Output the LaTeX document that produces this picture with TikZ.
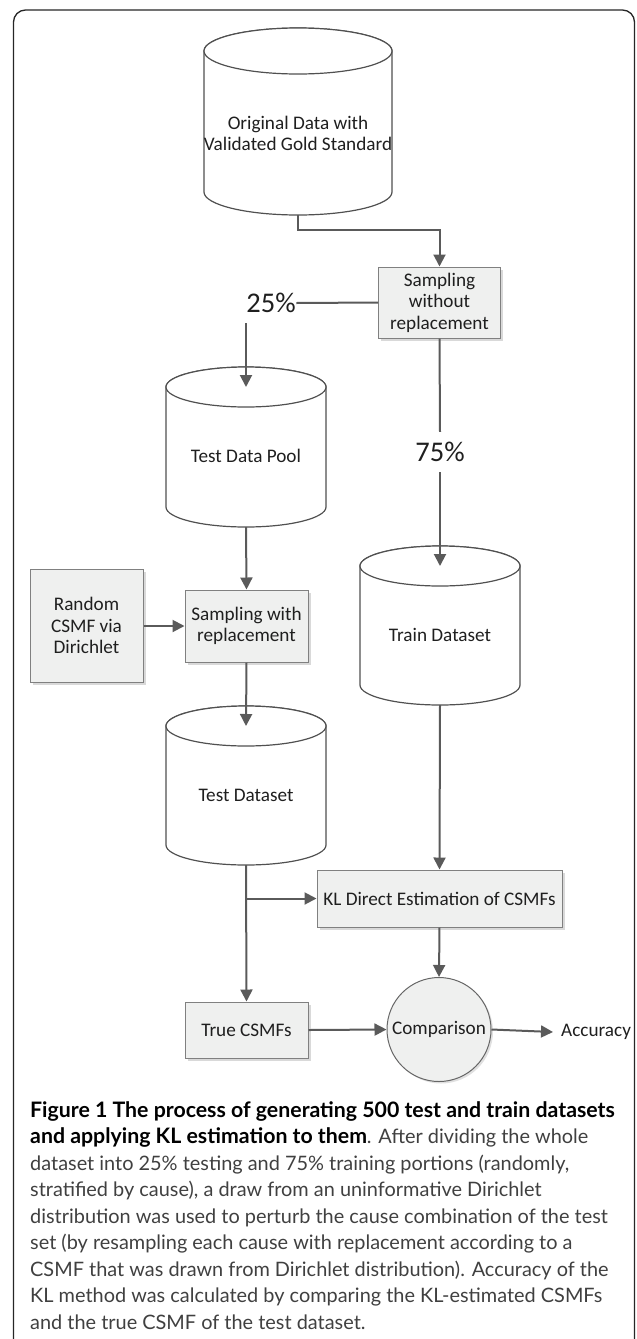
\documentclass[tikz,border=0pt]{standalone}
\usepackage{fontspec}
\setmainfont{Carlito}
\newfontfamily\capfont{Lato}
\usetikzlibrary{arrows.meta,positioning,shadows,calc}
\definecolor{boxfill}{HTML}{EFF0EF}
\definecolor{boxline}{HTML}{808080}
\definecolor{linkgray}{HTML}{5A5A5A}
\definecolor{drumline}{HTML}{505050}
\definecolor{captext}{HTML}{404040}
% database drum: centre x, top-ellipse y, bottom-ellipse y, x radius, y radius
\newcommand{\datadrum}[5]{%
  \draw[drum] (#1-#4,#2) -- (#1-#4,#3) arc[start angle=180,end angle=360,x radius=#4,y radius=#5]
    -- (#1+#4,#2) arc[start angle=0,end angle=180,x radius=#4,y radius=#5] -- cycle;
  \draw[drum] (#1,#2) ellipse[x radius=#4,y radius=#5];}
\newcommand{\capbold}[1]{\textcolor{black}{\fontsize{21.3}{26.5}\selectfont\bfseries #1}}

\begin{document}
\begin{tikzpicture}[x=1pt,y=1pt,
    difont/.style={font=\fontsize{19.2}{21.5}\selectfont, text=black!88},
    procbox/.style={difont, draw=boxline, fill=boxfill, line width=1pt, align=center, inner sep=0pt,
      drop shadow={shadow xshift=2.5pt, shadow yshift=-2.5pt, fill=black!15, opacity=1}},
    drum/.style={draw=drumline, fill=white, line width=1.2pt},
    conn/.style={draw=linkgray, line width=2pt, -{Triangle[width=12pt,length=12pt]}},
    link/.style={draw=linkgray, line width=2pt},
    pct/.style={font=\fontsize{28.5}{30}\selectfont, text=black!88, inner xsep=0.5pt, inner ysep=10pt}]
  \useasboundingbox (0,0) rectangle (637,-1339);
  % outer frame
  \draw[black!85, line width=1.3pt, rounded corners=12pt] (13.5,-1360) -- (13.5,-10) -- (634.5,-10) -- (634.5,-1360);

  % data stores
  \datadrum{298}{-51}{-192}{94}{23}
  \datadrum{246}{-387}{-507}{80}{20}
  \datadrum{440}{-566}{-685}{80}{20}
  \datadrum{246}{-726}{-845}{80}{20}
  \node[difont, align=center] (orig) at (298,-133.5) {Original Data with\\Validated Gold Standard};
  \node[difont] (pool) at (246,-456) {Test Data Pool};
  \node[difont] (train) at (440,-635) {Train Dataset};
  \node[difont] (testds) at (246,-795) {Test Dataset};
  \coordinate (origbot) at (298,-215);
  \coordinate (pooltop) at (246,-387);
  \coordinate (poolbot) at (246,-527);
  \coordinate (traintop) at (440,-566);
  \coordinate (trainbot) at (440,-705);
  \coordinate (testtop) at (246,-726);
  \coordinate (testbot) at (246,-865);

  % process boxes
  \node[procbox, minimum width=122pt, minimum height=71pt] (split) at (439.5,-302.5) {Sampling\\without\\replacement};
  \node[procbox, minimum width=113pt, minimum height=113pt] (rand) at (86.5,-625.5) {Random\\CSMF via\\Dirichlet};
  \node[procbox, minimum width=123pt, minimum height=72pt] (resamp) at (246.5,-626) {Sampling with\\replacement};
  \node[procbox, minimum width=245pt, minimum height=57pt] (kl) at (439.5,-898.5) {KL Direct Estimation of CSMFs};
  \node[procbox, minimum width=123pt, minimum height=56pt] (truecsmf) at (246.5,-1030) {True CSMFs};
  \node[difont, circle, draw=black!60, fill=boxfill, line width=1pt, minimum size=104pt, inner sep=0pt,
    drop shadow={shadow xshift=2pt, shadow yshift=-2pt, fill=black!12, opacity=1}] (cmp) at (439,-1029.5) {Comparison};
  \node[difont, anchor=west, inner xsep=8pt, inner ysep=0pt] (acc) at (553,-1032) {Accuracy};

  % split labels
  \node[pct] (p25) at (271,-303) {25\%};
  \node[pct] (p75) at (440,-452) {75\%};

  % connectors
  \draw[conn] (origbot) -- ++(0,-15) -| (split.north);
  \draw[link] (split.west) -- (p25.east);
  \draw[conn] (p25.south -| pooltop) -- (pooltop);
  \draw[link] (split.south) -- (p75.north);
  \draw[conn] (p75.south) -- (traintop);
  \draw[conn] (poolbot) -- (resamp.north);
  \draw[conn] (rand.east |- resamp.west) -- (resamp.west);
  \draw[conn] (resamp.south) -- (testtop);
  \draw[conn] (trainbot) -- (kl.north);
  \draw[conn] (testbot) -- (truecsmf.north);
  \draw[conn] (testbot |- kl.west) -- (kl.west);
  \draw[conn] (kl.south) -- (cmp.north);
  \draw[conn] (truecsmf.east) -- (cmp.west);
  \draw[conn] (cmp.east) -- (acc.west);

  % caption
  \node[anchor=north west, align=left, inner sep=0pt, text=captext,
    font=\capfont\fontsize{19.9}{26.5}\selectfont] (caption) at (30,-1101)
    {\capbold{Figure 1 The process of generating 500 test and train datasets}\\
     \capbold{and applying KL estimation to them}. After dividing the whole\\
     dataset into 25\% testing and 75\% training portions (randomly,\\
     stratified by cause), a draw from an uninformative Dirichlet\\
     distribution was used to perturb the cause combination of the test\\
     set (by resampling each cause with replacement according to a\\
     CSMF that was drawn from Dirichlet distribution). Accuracy of the\\
     KL method was calculated by comparing the KL-estimated CSMFs\\
     and the true CSMF of the test dataset.};
\end{tikzpicture}
\end{document}
